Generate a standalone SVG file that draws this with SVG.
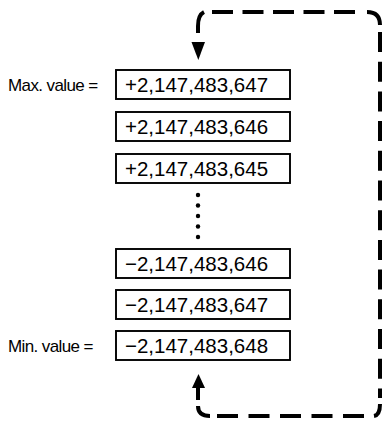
<svg xmlns="http://www.w3.org/2000/svg" width="383" height="422" viewBox="0 0 383 422">
<style>
.box{fill:#fff;stroke:#000;stroke-width:1.9}
.num{font-family:"Liberation Sans",Arial,sans-serif;font-size:20.5px;fill:#000}
.lbl{font-family:"Liberation Sans",Arial,sans-serif;font-size:17px;letter-spacing:-0.6px;fill:#000}
.ln{fill:none;stroke:#000;stroke-width:4}
.dot{fill:#000}
.head{fill:#000}
</style>
<rect width="383" height="422" fill="#fff"/>
<g id="connectors">
  <path class="ln" d="M198,33 L198,26 Q198,15 204,12"/>
  <path class="ln" d="M212,12 L355,12" stroke-dasharray="21 9.5"/>
  <path class="ln" d="M367,12 Q380,12 380,25"/>
  <path class="ln" d="M380,32 L380,398" stroke-dasharray="20 9.7"/>
  <path class="ln" d="M380,404 Q380,415 374,416"/>
  <path class="ln" d="M364,416 L216,416" stroke-dasharray="21 10.5"/>
  <path class="ln" d="M210,416 Q198,416 198,406"/>
  <path class="ln" d="M198,400 L198,387"/>
  <polygon class="head" points="191.5,42 205,42 198.3,60"/>
  <polygon class="head" points="192,388 205,388 198.5,374"/>
</g>
<g id="n1"><rect class="box" x="116" y="70" width="174" height="29"/><text class="num" x="125" y="91.5">+2,147,483,647</text></g>
<g id="n2"><rect class="box" x="116" y="112" width="174" height="29"/><text class="num" x="125" y="133.5">+2,147,483,646</text></g>
<g id="n3"><rect class="box" x="116" y="154" width="174" height="29"/><text class="num" x="125" y="175.5">+2,147,483,645</text></g>
<g id="ellipsis">
  <circle class="dot" cx="198" cy="195" r="2.2"/>
  <circle class="dot" cx="198" cy="205.5" r="2.2"/>
  <circle class="dot" cx="198" cy="216" r="2.2"/>
  <circle class="dot" cx="198" cy="226.5" r="2.2"/>
  <circle class="dot" cx="198" cy="237" r="2.2"/>
</g>
<g id="n4"><rect class="box" x="116" y="249" width="174" height="29"/><text class="num" x="125" y="270.5">−2,147,483,646</text></g>
<g id="n5"><rect class="box" x="116" y="290" width="174" height="29"/><text class="num" x="125" y="311.5">−2,147,483,647</text></g>
<g id="n6"><rect class="box" x="116" y="331" width="174" height="29"/><text class="num" x="125" y="352.5">−2,147,483,648</text></g>
<g id="labels">
  <text class="lbl" x="8" y="91">Max. value =</text>
  <text class="lbl" x="8" y="352">Min. value =</text>
</g>
</svg>
